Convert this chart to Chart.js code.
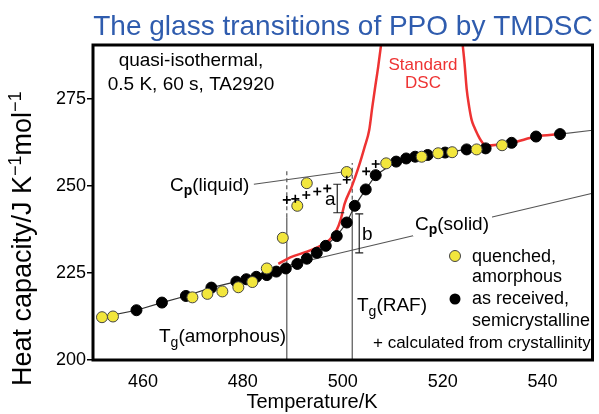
<!DOCTYPE html>
<html>
<head>
<meta charset="utf-8">
<script src="https://cdn.jsdelivr.net/npm/chart.js@4/dist/chart.umd.min.js"></script>
<style>
  html, body { margin: 0; padding: 0; background: #fff; }
</style>
</head>
<body>
<canvas id="cpChart" width="599" height="414"></canvas>
<script>
// quenched, amorphous PPO (yellow)
const quenchedT  = [451.8, 454.0, 469.9, 472.9, 475.9, 479.1, 481.9, 484.8, 488.0, 490.9, 492.8, 500.8, 508.7, 515.8, 519.1, 521.9, 526.8, 531.9];
const quenchedCp = [212.3, 212.5, 218.0, 219.0, 219.7, 220.9, 222.4, 226.3, 235.1, 244.3, 250.8, 254.0, 256.5, 258.4, 259.4, 259.7, 260.5, 261.7];

// as received, semicrystalline (black)
const receivedT  = [458.7, 463.8, 468.6, 473.7, 478.7, 480.7, 482.7, 484.8, 486.7, 488.6, 490.9, 492.8, 494.8, 496.6, 498.8, 500.8, 502.4, 504.6, 506.6, 510.7, 512.7, 514.5, 517.0, 520.5, 524.8, 528.6, 533.8, 538.7, 543.5];
const receivedCp = [214.3, 216.5, 218.4, 220.8, 222.5, 223.2, 223.9, 224.4, 225.4, 226.3, 227.6, 229.1, 230.8, 232.8, 235.6, 239.5, 244.3, 249.0, 253.1, 257.0, 257.9, 258.4, 258.9, 259.6, 260.5, 260.8, 262.4, 264.2, 264.9];

// calculated from crystallinity (+)
const calcT  = [488.8, 490.5, 492.7, 494.9, 496.9, 500.8, 504.7, 506.6];
const calcCp = [246.0, 246.3, 247.4, 248.4, 249.3, 251.8, 254.2, 256.3];

// standard DSC trace, rising edge and falling edge of the peak
const dscRiseT  = [487.1, 489.5, 492.8, 495.5, 497.4, 498.8, 499.6, 500.4, 501.8, 503.1, 504.4, 505.3, 505.9, 506.5, 507.1, 507.8];
const dscRiseCp = [227.6, 229.5, 231.1, 232.8, 234.6, 237.4, 240.4, 245.0, 249.8, 255.1, 261.3, 266.1, 272.5, 278.5, 284.3, 292.0];
const dscFallT  = [523.9, 524.4, 524.8, 525.3, 525.8, 526.3, 527.0, 527.6, 528.6, 533.8, 538.7, 543.5];
const dscFallCp = [292.0, 285.0, 278.0, 272.8, 269.0, 267.0, 264.8, 263.2, 261.6, 262.4, 264.2, 264.9];

// baselines
const liquidT = [482.2, 501.4], liquidCp = [250.5, 254.3];
const solidT  = [488.5, 550.0], solidCp  = [227.0, 247.9];
const tailT   = [543.5, 550.0], tailCp   = [264.9, 266.0];

// glass transition temperatures and the a / b steps
const tgAmorphous = 488.8, tgRaf = 501.9;
const stepA = { t: 498.9, lo: 242.3, hi: 250.5 };
const stepB = { t: 503.3, lo: 230.8, hi: 242.0 };

const xTicks = [460, 480, 500, 520, 540];
const yTicks = [200, 225, 250, 275];

const FONT = '"Liberation Sans", Arial, sans-serif';
const pts = (xs, ys) => xs.map((v, i) => ({ x: v, y: ys[i] }));
const guide = (data, dash) => ({
  data, showLine: true, pointRadius: 0, borderColor: '#555', borderWidth: 1.2,
  borderDash: dash || [], order: 6
});

function runs(ctx, x, base, parts) {
  let cx = x;
  parts.forEach(p => {
    ctx.font = (p.bold ? 'bold ' : '') + p.size + 'px ' + FONT;
    ctx.fillText(p.t, cx, base + (p.dy || 0));
    cx += ctx.measureText(p.t).width;
  });
  return cx - x;
}

const annotations = {
  id: 'annotations',
  afterDatasetsDraw(chart) {
    const { ctx, chartArea: a, scales: { x, y } } = chart;
    ctx.save();

    // a and b brackets
    ctx.strokeStyle = '#222';
    ctx.lineWidth = 1.2;
    [[stepA, 4, 7], [stepB, 4, 4]].forEach(([s, cl, cr]) => {
      const px = x.getPixelForValue(s.t);
      const top = y.getPixelForValue(s.hi), bot = y.getPixelForValue(s.lo);
      ctx.beginPath();
      ctx.moveTo(px, top); ctx.lineTo(px, bot);
      ctx.moveTo(px - 4, top); ctx.lineTo(px + 4, top);
      ctx.moveTo(px - cl, bot); ctx.lineTo(px + cr, bot);
      ctx.stroke();
    });

    ctx.fillStyle = '#000';
    ctx.textBaseline = 'alphabetic';
    ctx.textAlign = 'left';

    // Cp(solid) sits on its own line
    ctx.fillStyle = '#fff';
    ctx.fillRect(413, 213, 79, 23);
    ctx.fillStyle = '#000';
    runs(ctx, 415, 230, [{ t: 'C', size: 19 }, { t: 'p', size: 14, bold: true, dy: 4 }, { t: '(solid)', size: 19 }]);
    runs(ctx, 170, 191, [{ t: 'C', size: 19 }, { t: 'p', size: 14, bold: true, dy: 4 }, { t: '(liquid)', size: 19 }]);
    runs(ctx, 159, 342, [{ t: 'T', size: 19 }, { t: 'g', size: 14, dy: 5 }, { t: '(amorphous)', size: 19 }]);
    runs(ctx, 357, 311, [{ t: 'T', size: 19 }, { t: 'g', size: 14, dy: 5 }, { t: '(RAF)', size: 19 }]);

    ctx.font = '19px ' + FONT;
    ctx.fillText('a', 325, 205);
    ctx.fillText('b', 362, 240);

    // method note
    ctx.textAlign = 'center';
    ctx.fillText('quasi-isothermal,', 191, 66);
    ctx.fillText('0.5 K, 60 s, TA2920', 191, 90);

    ctx.fillStyle = '#ee3333';
    ctx.font = '17px ' + FONT;
    ctx.fillText('Standard', 423, 70);
    ctx.fillText('DSC', 423, 88);

    // legend
    ctx.lineWidth = 1;
    ctx.beginPath();
    ctx.arc(455, 256, 5.5, 0, Math.PI * 2);
    ctx.fillStyle = '#f2e63c'; ctx.fill();
    ctx.strokeStyle = '#444'; ctx.stroke();
    ctx.beginPath();
    ctx.arc(455, 299, 5.5, 0, Math.PI * 2);
    ctx.fillStyle = '#000'; ctx.fill();

    ctx.textAlign = 'left';
    ctx.font = '18px ' + FONT;
    ctx.fillText('quenched,', 472, 261.5);
    ctx.fillText('amorphous', 472, 282);
    ctx.fillText('as received,', 472, 303.5);
    ctx.fillText('semicrystalline', 472, 325.5);
    ctx.font = '17px ' + FONT;
    ctx.fillText('+ calculated from crystallinity', 373, 348);

    // frame
    ctx.strokeStyle = '#000';
    ctx.lineWidth = 3;
    ctx.strokeRect(a.left, a.top, a.right - a.left, a.bottom - a.top);
    ctx.restore();
  },
  afterDraw(chart) {
    const { ctx } = chart;
    ctx.save();
    ctx.textBaseline = 'alphabetic';
    ctx.fillStyle = '#2f5cae';
    ctx.font = '28px ' + FONT;
    ctx.textAlign = 'center';
    ctx.fillText('The glass transitions of PPO by TMDSC', 343, 35);

    ctx.fillStyle = '#000';
    ctx.font = '20px ' + FONT;
    ctx.fillText('Temperature/K', 312, 408);

    ctx.translate(31, 386);
    ctx.rotate(-Math.PI / 2);
    ctx.textAlign = 'left';
    runs(ctx, 0, 0, [
      { t: 'Heat capacity/J K', size: 27 },
      { t: '\u22121', size: 18, dy: -10 },
      { t: 'mol', size: 27 },
      { t: '\u22121', size: 18, dy: -10 }
    ]);
    ctx.restore();
  }
};

Chart.defaults.font.family = FONT;
Chart.defaults.color = '#000';

new Chart(document.getElementById('cpChart'), {
  type: 'scatter',
  data: {
    datasets: [
      { data: pts(calcT, calcCp), pointStyle: 'cross', pointRadius: 4, borderColor: '#000', borderWidth: 1.6, order: 0 },
      { data: pts(quenchedT, quenchedCp), pointRadius: 5.5, backgroundColor: '#f2e63c', borderColor: '#444', borderWidth: 1, order: 1 },
      { data: pts(receivedT, receivedCp), pointRadius: 5.5, backgroundColor: '#000', borderColor: '#000', borderWidth: 1, order: 2 },
      { data: pts(dscRiseT, dscRiseCp), showLine: true, pointRadius: 0, borderColor: '#ee3333', borderWidth: 2.5, cubicInterpolationMode: 'monotone', order: 3 },
      { data: pts(dscFallT, dscFallCp), showLine: true, pointRadius: 0, borderColor: '#ee3333', borderWidth: 2.5, cubicInterpolationMode: 'monotone', order: 3 },
      { data: [{ x: quenchedT[0], y: quenchedCp[0] }].concat(pts(receivedT.slice(0, 25), receivedCp.slice(0, 25))),
        showLine: true, pointRadius: 0, borderColor: '#333', borderWidth: 1.2, order: 4 },
      guide(pts(liquidT, liquidCp)),
      guide(pts(solidT, solidCp)),
      guide(pts(tailT, tailCp)),
      guide(pts([tgAmorphous, tgAmorphous], [200, 241])),
      guide(pts([tgAmorphous, tgAmorphous], [241, 254.3]), [4, 3]),
      guide(pts([tgRaf, tgRaf], [200, 242])),
      guide(pts([tgRaf, tgRaf], [242, 256.6]), [4, 3])
    ]
  },
  options: {
    responsive: false,
    animation: false,
    events: [],
    layout: { padding: { left: 0, right: 2, top: 45, bottom: 0 } },
    plugins: { legend: { display: false }, tooltip: { enabled: false } },
    scales: {
      x: {
        type: 'linear', min: 450, max: 550,
        afterBuildTicks: s => { s.ticks = xTicks.map(v => ({ value: v })); },
        afterFit: s => { s.height = 54; },
        grid: { display: false },
        border: { display: false },
        ticks: { font: { size: 18 }, padding: 3, maxRotation: 0 }
      },
      y: {
        min: 200, max: 290.5,
        afterBuildTicks: s => { s.ticks = yTicks.map(v => ({ value: v })); },
        afterFit: s => { s.width = 93; },
        grid: { drawOnChartArea: false, drawTicks: true, tickLength: 6, color: '#000', lineWidth: 1.5 },
        border: { display: false },
        ticks: { font: { size: 18 }, padding: 1 }
      }
    }
  },
  plugins: [annotations]
});
</script>
</body>
</html>
